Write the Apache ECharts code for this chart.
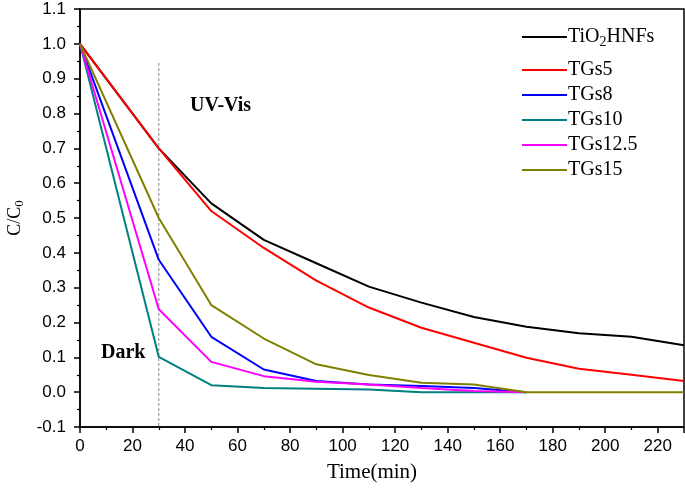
<!DOCTYPE html>
<html>
<head>
<meta charset="utf-8">
<script src="https://cdn.jsdelivr.net/npm/echarts@6/dist/echarts.min.js"></script>
<style>html,body{margin:0;padding:0;background:#fff;}#c{width:685px;height:491px;}</style>
</head>
<body>
<div id="c"></div>
<script>
const times = [0, 30, 50, 70, 90, 110, 130, 150, 170, 190, 210, 230];
const tio2 = [1.0, 0.70, 0.542, 0.437, 0.37, 0.303, 0.257, 0.216, 0.188, 0.169, 0.159, 0.135];
const tgs5 = [1.0, 0.70, 0.52, 0.414, 0.32, 0.243, 0.185, 0.142, 0.099, 0.067, 0.05, 0.032];
const tgs8 = [1.0, 0.38, 0.159, 0.065, 0.032, 0.022, 0.018, 0.012, 0.0];
const tgs10 = [1.0, 0.101, 0.02, 0.012, 0.01, 0.008, 0.0, 0.0, 0.0];
const tgs12_5 = [1.0, 0.238, 0.087, 0.046, 0.03, 0.022, 0.012, 0.003, 0.0];
const tgs15 = [1.0, 0.50, 0.25, 0.154, 0.08, 0.049, 0.027, 0.022, 0.0, 0.0, 0.0, 0.0];
const seriesNames = ['TiO2HNFs', 'TGs5', 'TGs8', 'TGs10', 'TGs12.5', 'TGs15'];
const seriesValues = [tio2, tgs5, tgs8, tgs10, tgs12_5, tgs15];
const seriesColors = ['#000000', '#ff0000', '#0000ff', '#008080', '#ff00ff', '#808000'];
const xTicks = {min: 0, max: 230, interval: 20};
const yTicks = {min: -0.1, max: 1.1, interval: 0.1};
const darkLineX = 30;
const darkLineY = [0.945, -0.1];

const chart = echarts.init(document.getElementById('c'), null, {renderer: 'canvas'});

const series = seriesNames.map((name, i) => ({
  name: name,
  type: 'line',
  symbol: 'none',
  data: seriesValues[i].map((v, j) => [times[j], v]),
  lineStyle: {color: seriesColors[i], width: 2},
  itemStyle: {color: seriesColors[i]},
  z: 3
}));
series.push({
  name: 'divider',
  type: 'line',
  symbol: 'none',
  data: darkLineY.map(v => [darkLineX, v]),
  lineStyle: {color: '#888', width: 1, type: [3, 2]},
  silent: true,
  z: 1
});

const serif = '"Liberation Serif", "Times New Roman", serif';
const sans = '"Liberation Sans", Arial, sans-serif';

const legendBase = {
  orient: 'vertical',
  left: 517,
  itemWidth: 45,
  itemHeight: 2,
  itemGap: 5,
  icon: 'rect',
  formatter: n => n === 'TiO2HNFs' ? 'TiO{sub|2}HNFs' : n,
  textStyle: {
    fontFamily: serif, fontSize: 20, color: '#000', padding: [0, 0, 0, -4],
    rich: {sub: {fontFamily: serif, fontSize: 14, color: '#000', padding: [10, 0, 0, 0]}}
  }
};

chart.setOption({
  animation: false,
  backgroundColor: '#fff',
  grid: {left: 80, right: 1, top: 9, bottom: 64, outerBoundsMode: 'none', containLabel: false,
    show: true, borderColor: '#000', borderWidth: 1.5, backgroundColor: 'transparent'},
  legend: [
    Object.assign({}, legendBase, {data: seriesNames.slice(0, 1), top: 22}),
    Object.assign({}, legendBase, {data: seriesNames.slice(1), top: 55})
  ],
  xAxis: {
    type: 'value',
    min: xTicks.min, max: xTicks.max, interval: xTicks.interval,
    name: 'Time(min)',
    nameLocation: 'middle',
    nameGap: 35,
    nameTextStyle: {fontFamily: serif, fontSize: 21, color: '#000', padding: [0, 20, 0, 0]},
    axisLine: {show: true, onZero: false, lineStyle: {color: '#000', width: 1.5}},
    axisTick: {show: true, inside: false, length: 6, lineStyle: {color: '#000', width: 1.5}},
    minorTick: {show: true, splitNumber: 2, length: 3, lineStyle: {color: '#000', width: 1.2}},
    axisLabel: {fontFamily: sans, fontSize: 17, color: '#000', margin: 11, showMaxLabel: false},
    splitLine: {show: false}
  },
  yAxis: {
    type: 'value',
    min: yTicks.min, max: yTicks.max, interval: yTicks.interval,
    name: 'C/C{sub|0}',
    nameLocation: 'middle',
    nameGap: 52,
    nameTextStyle: {fontFamily: serif, fontSize: 18, color: '#000',
      rich: {sub: {fontFamily: serif, fontSize: 13, color: '#000', padding: [9, 0, 0, 0]}}},
    axisLine: {show: true, onZero: false, lineStyle: {color: '#000', width: 1.5}},
    axisTick: {show: true, inside: false, length: 6, lineStyle: {color: '#000', width: 1.5}},
    minorTick: {show: true, splitNumber: 2, length: 3, lineStyle: {color: '#000', width: 1.2}},
    axisLabel: {fontFamily: sans, fontSize: 17, color: '#000', margin: 14, formatter: v => v.toFixed(1)},
    splitLine: {show: false}
  },
  graphic: [
    {type: 'text', left: 190, top: 96, style: {text: 'UV-Vis', font: 'bold 20px ' + serif, fill: '#000'}},
    {type: 'text', left: 101, top: 343, style: {text: 'Dark', font: 'bold 20px ' + serif, fill: '#000'}}
  ],
  series: series
});
</script>
</body>
</html>
